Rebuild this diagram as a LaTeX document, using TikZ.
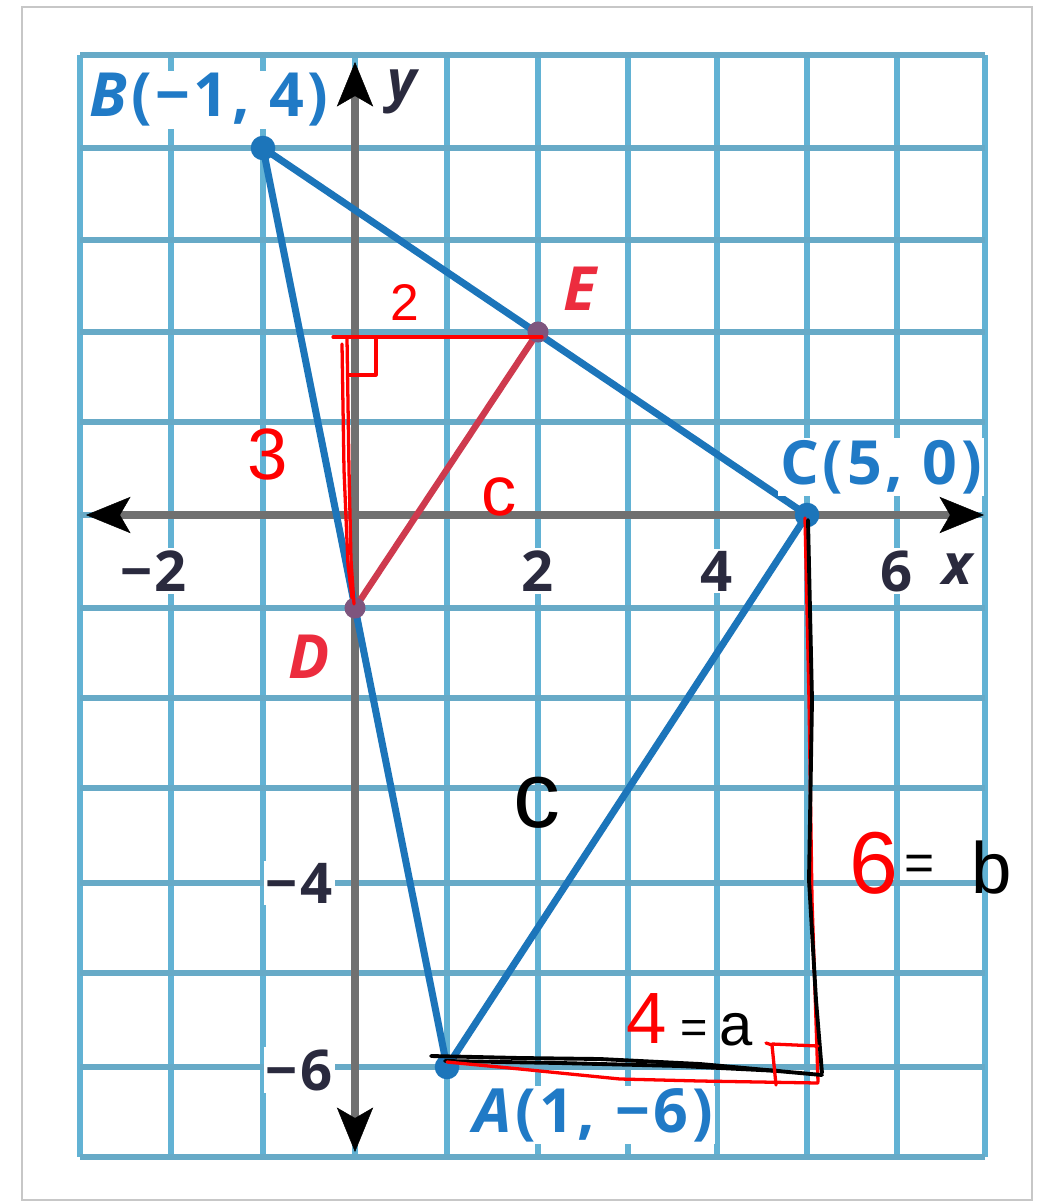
\documentclass[tikz,border=0pt]{standalone}
\usepackage{fontspec}
\setmainfont{Open Sans}
\newfontfamily\hand{Liberation Sans}
\usetikzlibrary{arrows.meta}
\definecolor{gridblue}{RGB}{98,178,212}
\definecolor{axisgray}{RGB}{112,112,112}
\definecolor{triblue}{RGB}{28,117,186}
\definecolor{segred}{RGB}{206,58,78}
\definecolor{labblue}{RGB}{32,122,198}
\definecolor{labred}{RGB}{236,44,62}
\definecolor{labdark}{RGB}{42,42,62}
\definecolor{inkred}{RGB}{255,0,0}
\tikzset{axtip/.tip={Stealth[length=38pt,width=31pt,inset=9pt,color=black,fill=black,line width=0.4pt]}}
\begin{document}
\begin{tikzpicture}[x=0.03cm,y=-0.03cm,
  gridv/.style={gridblue,line width=4.3pt},
  gridh/.style={gridblue!85!gray,line width=5pt},
  axisline/.style={axisgray,line width=6.5pt},
  side/.style={triblue,line width=6pt,line cap=round},
  midseg/.style={segred,line width=5.5pt,line cap=round},
  ticklab/.style={font=\fontsize{48}{50}\selectfont\bfseries,text=labdark,fill=white,inner sep=2pt},
  ptlab/.style={font=\fontsize{52}{54}\selectfont\bfseries\addfontfeatures{LetterSpace=6},text=labblue,fill=white,inner sep=2pt},
  redlab/.style={font=\fontsize{52}{54}\selectfont\bfseries\itshape,text=labred,inner sep=2pt},
  inkr/.style={inkred,line width=2.8pt,line cap=round,line join=round},
  inkk/.style={black,line width=3.3pt,line cap=round,line join=round},
  handr/.style={text=inkred,inner sep=0pt},
  handk/.style={text=black,inner sep=0pt}]
\useasboundingbox (0,0) rectangle (1056,1202);
% card
\draw[black!22,line width=2.5pt,fill=white] (22,7) rectangle (1032,1200);
% grid
\foreach \gx in {80,171,263,355,447,538,628,717,807,897,985}
  \draw[gridv] (\gx,55) -- (\gx,1157);
\foreach \gy in {55,148,240,332,422,515,608,698,788,883,973,1067,1157}
  \draw[gridh] (80,\gy) -- (985,\gy);
% axes
\coordinate (xl) at (86,515);
\coordinate (xr) at (984,515);
\coordinate (yt) at (355,62);
\coordinate (yb) at (355,1152);
\draw[axisline,axtip-axtip] (xl) -- (xr);
\draw[axisline,axtip-axtip] (yb) -- (yt);
% tick labels
\node[ticklab] (tm2) at (171,571) {\llap{−\kern2pt}2};
\node[ticklab] (t2) at (538,571) {2};
\node[ticklab] (t4) at (717,571) {4};
\node[ticklab] (t6) at (897,571) {6};
\node[ticklab,font=\fontsize{48}{50}\selectfont\bfseries\itshape] (tx) at (957,569) {x};
\node[ticklab,font=\fontsize{48}{50}\selectfont\bfseries\itshape,fill=none] (ty) at (402,92) {y};
\node[ticklab,anchor=east] (tm4) at (335,883) {−\kern2pt4};
\node[ticklab,anchor=east] (tm6) at (335,1070) {−\kern2pt6};
% points
\coordinate (A) at (447,1067);
\coordinate (B) at (263,148);
\coordinate (C) at (807,515);
\coordinate (D) at (355,608);
\coordinate (E) at (538,332);
\draw[side] (A) -- (B) -- (C) -- cycle;
\draw[midseg] (D) -- (E);
\fill[triblue] (A) circle[radius=10.5pt];
\fill[triblue] (B) circle[radius=10.5pt];
\fill[triblue] (C) circle[radius=10.5pt];
\fill[segred!55!triblue] (D) circle[radius=9pt];
\fill[segred!55!triblue] (E) circle[radius=9pt];
% point labels
\node[ptlab] (Blab) at (209,100) {\textit{B}(−1, 4)};
\node[ptlab] (Clab) at (881,467) {C(5, 0)};
\node[ptlab] (Alab) at (593,1115) {\textit{A}(1, −6)};
\node[redlab] (Elab) at (580,289) {E};
\node[redlab] (Dlab) at (309,657) {D};
% handwritten red right triangle D-E
\coordinate (h1) at (333,337);
\coordinate (h2) at (542,337);
\draw[inkr] (h1) -- (h2);
\draw[inkr] (347,338) -- (349,470) -- (351,560) -- (354,604);
\draw[inkr] (342,344) -- (344,470) -- (348,565) -- (352,598);
\draw[inkr] (376,337) -- (376,375) -- (348,375);
% handwritten right triangle A-C
\draw[inkr] (805,518) -- (809,700) -- (812,900) -- (818,1082);
\draw[inkk] (808,520) -- (812,700) -- (809,880) -- (816,1000) -- (822,1073);
\draw[inkk] (431,1056) -- (520,1058) -- (600,1059) -- (700,1064) -- (822,1075);
\draw[inkk] (445,1061) -- (560,1063) -- (680,1066) -- (780,1071);
\draw[inkr] (447,1062) -- (520,1069) -- (620,1079) -- (700,1081) -- (818,1083);
\draw[inkr] (766,1043) -- (772,1045) -- (776,1085);
\draw[inkr] (772,1044) -- (818,1046);
% handwritten labels
\node[handr,font=\hand\fontsize{44}{44}\selectfont] (n2) at (405,302) {2};
\node[handr,font=\hand\fontsize{62}{62}\selectfont] (n3) at (268,454) {3};
\node[handr,font=\hand\fontsize{60}{60}\selectfont] (nc) at (499,497) {c};
\node[handk,font=\hand\fontsize{80}{80}\selectfont] (nC) at (537,803) {c};
\node[handr,font=\hand\fontsize{75}{75}\selectfont] (n6) at (874,863) {6};
\node[handk,font=\hand\fontsize{44}{44}\selectfont] (eq1) at (920,868) {=};
\node[handk,font=\hand\fontsize{62}{62}\selectfont] (nb) at (992,868) {b};
\node[handr,font=\hand\fontsize{62}{62}\selectfont] (n4) at (647,1018) {4};
\node[handk,font=\hand\fontsize{40}{40}\selectfont] (eq2) at (694,1032) {=};
\node[handk,font=\hand\fontsize{51}{51}\selectfont] (na) at (736,1030) {a};
\end{tikzpicture}
\end{document}
